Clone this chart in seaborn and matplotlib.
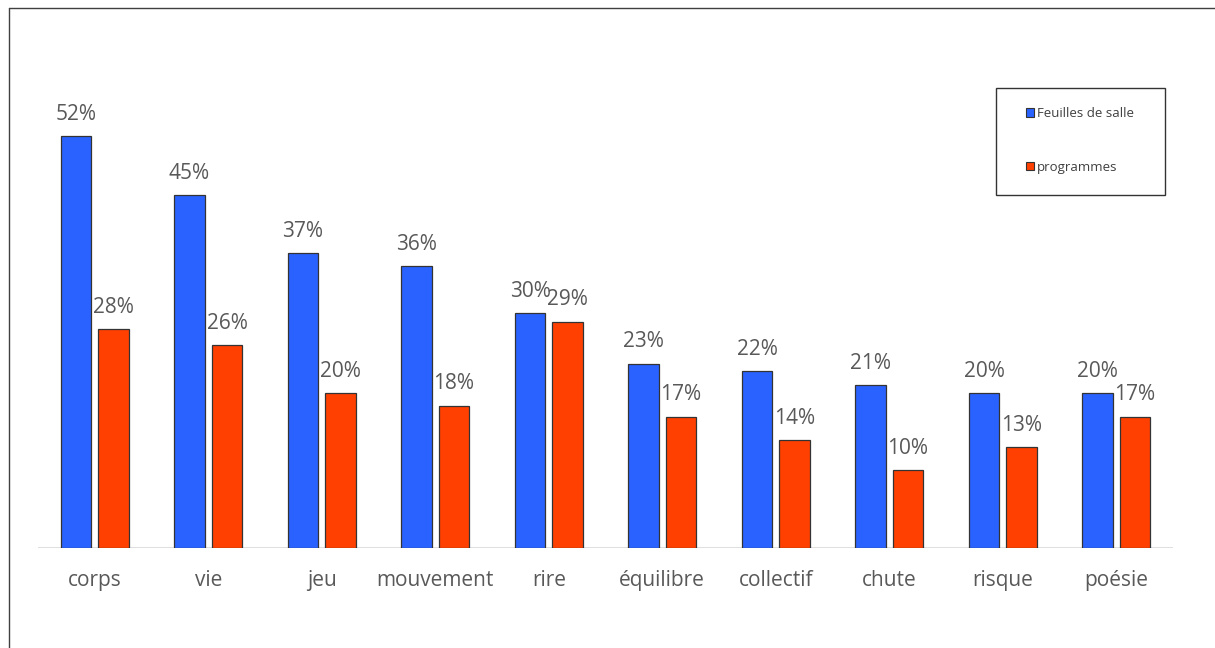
import pandas as pd
import seaborn as sns
import matplotlib.pyplot as plt
from matplotlib.lines import Line2D
from matplotlib.patches import Rectangle

mots = ['corps', 'vie', 'jeu', 'mouvement', 'rire', 'équilibre',
        'collectif', 'chute', 'risque', 'poésie']
feuilles = [52.0, 44.6, 37.2, 35.6, 29.7, 23.3, 22.3, 20.6, 19.6, 19.6]
programmes = [27.7, 25.6, 19.6, 18.0, 28.6, 16.6, 13.6, 9.8, 12.7, 16.6]
series = ['Feuilles de salle', 'programmes']
couleurs = ['#2962ff', '#ff4000']

df = pd.DataFrame({
    'mot': mots * 2,
    'pct': [v / 100 for v in feuilles + programmes],
    'source': [series[0]] * len(mots) + [series[1]] * len(mots),
})

sns.set_theme(style='white')
plt.rcParams['font.family'] = ['Open Sans', 'DejaVu Sans']

fig = plt.figure(figsize=(12.15, 6.48), dpi=100)
ax = fig.add_axes([38 / 1215, 1 - 548 / 648, 1135 / 1215, 475 / 648])

sns.barplot(data=df, x='mot', y='pct', hue='source', palette=couleurs,
            width=0.66, gap=0.19, edgecolor='#333333', linewidth=0.9,
            saturation=1, legend=False, ax=ax)

# étiquettes de valeurs
for cont in ax.containers:
    ax.bar_label(cont, fmt=lambda v: f'{v * 100:.0f}%', padding=8,
                 fontsize=15, color='#595959')

ax.set_ylim(0, 0.60)
ax.set_xlim(-0.5, len(mots) - 0.5)
ax.axhline(0, color='#d9d9d9', lw=1.2, zorder=0)
ax.set_xlabel('')
ax.set_ylabel('')
ax.set_yticks([])
ax.tick_params(axis='x', length=0, pad=16, labelsize=15, labelcolor='#595959')
sns.despine(ax=ax, left=True, bottom=True)

# cadre du graphique
fig.add_artist(Line2D([9 / 1215, 9 / 1215], [0, 1 - 8 / 648], color='#404040', lw=1))
fig.add_artist(Line2D([9 / 1215, 1], [1 - 8 / 648, 1 - 8 / 648], color='#404040', lw=1))

# légende
fig.add_artist(Rectangle((996 / 1215, 1 - 195 / 648), 169 / 1215, 107 / 648,
                         transform=fig.transFigure, fill=False,
                         edgecolor='#333333', lw=1))
handles = [Rectangle((0, 0), 1, 1, facecolor=c, edgecolor='#333333', lw=0.8)
           for c in couleurs]
fig.legend(handles, series, loc='upper left',
           bbox_to_anchor=(1026 / 1215, 1 - 107 / 648), frameon=False,
           fontsize=9.5, labelcolor='#404040', handlelength=0.6, handleheight=0.6,
           handletextpad=0.25, labelspacing=3.1, borderpad=0, borderaxespad=0)

fig.savefig('out.png', dpi=100)
